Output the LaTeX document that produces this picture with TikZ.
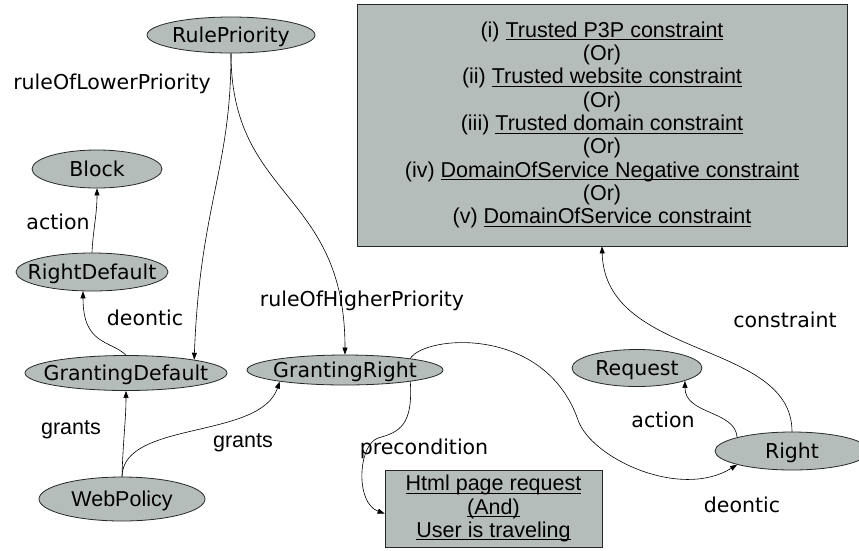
\documentclass[tikz,border=0pt]{standalone}
\usepackage{fontspec}
\setmainfont{DejaVu Sans}
\newfontfamily\arialf{Liberation Sans}
\usetikzlibrary{shapes.geometric,arrows.meta}
\definecolor{fillc}{RGB}{181,189,187}
\definecolor{linec}{RGB}{40,40,40}
\newcommand\zw[1]{\makebox[0pt]{#1}}
\newcommand\uln[1]{\setbox0\hbox{#1}\rlap{\rule[-3pt]{\wd0}{0.9pt}}\box0}
\tikzset{
  ell/.style={ellipse, draw=linec, fill=fillc, line width=0.8pt, inner sep=0pt,
    font=\fontsize{20.5}{24}\selectfont, text height=15pt, text depth=0pt},
  lbl/.style={inner sep=0pt, font=\fontsize{20.5}{24}\selectfont, text height=15pt, text depth=0pt},
  albl/.style={inner sep=0pt, font=\arialf\fontsize{21.5}{24}\selectfont},
  boxn/.style={rectangle, draw=linec, fill=fillc, line width=0.8pt, inner sep=0pt,
    align=center, font=\arialf\fontsize{21.5}{23.3}\selectfont},
  conn/.style={draw=black, line width=0.6pt, -{Triangle[length=7pt,width=5pt]}}
}
\begin{document}
\begin{tikzpicture}[x=1pt,y=-1pt]
\clip (0,0) rectangle (859,550);
\fill[white] (0,0) rectangle (859,550);
% nodes
\node[ell, minimum width=168pt, minimum height=36pt] (rp) at (231,35) {\zw{RulePriority}};
\node[ell, minimum width=130pt, minimum height=38pt] (bl) at (97,169) {\zw{Block}};
\node[ell, minimum width=152pt, minimum height=38pt] (rd) at (92,272) {\zw{RightDefault}};
\node[ell, minimum width=202pt, minimum height=35pt] (gd) at (126,373) {\zw{GrantingDefault}};
\node[ell, minimum width=196pt, minimum height=30pt] (gr) at (345,370) {\zw{GrantingRight}};
\node[ell, minimum width=166pt, minimum height=44pt, font=\arialf\fontsize{21.5}{24}\selectfont] (wp) at (122,499) {\zw{WebPolicy}};
\node[ell, minimum width=130pt, minimum height=37pt] (rq) at (637,368) {\zw{Request}};
\node[ell, minimum width=154pt, minimum height=38pt] (rt) at (792,451) {\zw{Right}};
\node[boxn, minimum width=490pt, minimum height=242pt] (cb) at (602,125)
  {(i) \uln{Trusted P3P constraint}\\(Or)\\(ii) \uln{Trusted website constraint}\\(Or)\\(iii) \uln{Trusted domain constraint}\\(Or)\\(iv) \uln{DomainOfService Negative constraint}\\(Or)\\(v) \uln{DomainOfService constraint}};
\node[boxn, minimum width=217pt, minimum height=77pt] (hb) at (493.5,508.5)
  {\uln{Html page request}\\\uln{(And)}\\\uln{User is traveling}};
% labels
\node[lbl] (l1) at (112,82) {ruleOfLowerPriority};
\node[lbl] (l2) at (58,222) {action};
\node[lbl] (l3) at (145,318) {deontic};
\node[lbl] (l4) at (362,299) {ruleOfHigherPriority};
\node[albl] (l5) at (71,430) {grants};
\node[albl] (l6) at (243,443) {grants};
\node[lbl] (l7) at (424,447) {precondition};
\node[lbl] (l8) at (785,320) {constraint};
\node[lbl] (l9) at (663,420) {action};
\node[lbl] (l10) at (742,505) {deontic};
% connectors
\draw[conn] (rp.south) .. controls (231,170) and (200,205) .. (gd.11);
\draw[conn] (rp.south) .. controls (231,200) and (345,190) .. (gr.north);
\draw[conn] (rd.north) .. controls (93,230) and (97,215) .. (bl.south);
\draw[conn] (gd.north) .. controls (110,340) and (83,345) .. (rd.245);
\draw[conn] (wp.north) .. controls (123,440) and (126,420) .. (gd.south);
\draw[conn] (wp.north) .. controls (123,420) and (260,440) .. (gr.190);
\draw[conn] (gr.-10) .. controls (413,425) and (400,432) .. (378,438) .. controls (358,445) and (355,503) .. ([yshift=-5pt]hb.west);
\draw[conn] (gr.10) .. controls (425,335) and (545,325) .. (578,420) .. controls (591,458) and (680,500) .. (rt.194);
\draw[conn] (rt.166) .. controls (735,410) and (685,415) .. (rq.-15);
\draw[conn] (rt.north) .. controls (792,340) and (605,360) .. (cb.south);
\end{tikzpicture}
\end{document}
